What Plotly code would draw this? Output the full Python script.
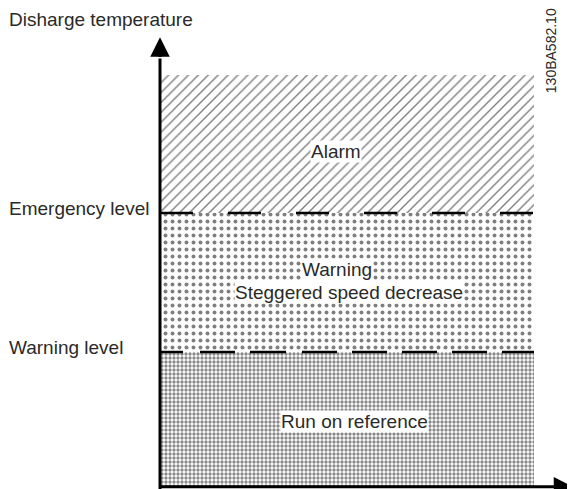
import plotly.graph_objects as go

# Zone data (arbitrary temperature units, 0 = axis origin, 100 = top of alarm zone)
zone_names = ["Run on reference", "Warning", "Alarm"]
zone_bounds = [0, 32.6, 66.4, 100]
x_extent = [0, 100]
level_names = ["Warning level", "Emergency level"]
level_values = [32.6, 66.4]
axis_title = "Disharge temperature"
doc_id = "130BA582.10"

FONT = "Liberation Sans, Arial, sans-serif"
TXT = "#2a2a2a"

fig = go.Figure()

patterns = [
    dict(shape=".", size=4, solidity=0.55, fgcolor="#111", bgcolor="white"),
    dict(shape=".", size=7, solidity=0.25, fgcolor="#000", bgcolor="white"),
    dict(shape="/", size=7, solidity=0.2, fgcolor="#000", bgcolor="white"),
]
for i, name in enumerate(zone_names):
    y0, y1 = zone_bounds[i], zone_bounds[i + 1]
    fig.add_trace(go.Scatter(
        x=[x_extent[0], x_extent[1], x_extent[1], x_extent[0], x_extent[0]],
        y=[y0, y0, y1, y1, y0],
        mode="none", fill="toself", fillcolor="white",
        fillpattern=patterns[i], hoverinfo="skip", showlegend=False))

# dashed level lines
dashes = ["23px,17px,35px,15px,36px,16px,35px,15px,35px,15px,35px,15px,35px,15px,35px,15px", "33px,35px"]
for v, d in zip(level_values, dashes):
    fig.add_trace(go.Scatter(x=x_extent, y=[v, v], mode="lines",
                             line=dict(color="black", width=2.5, dash=d),
                             hoverinfo="skip", showlegend=False))

# axes lines
fig.add_trace(go.Scatter(x=[0, 0], y=[-1, 104], mode="lines",
                         line=dict(color="black", width=3), hoverinfo="skip", showlegend=False))
fig.add_trace(go.Scatter(x=[0, 106], y=[-0.2, -0.2], mode="lines",
                         line=dict(color="black", width=3), hoverinfo="skip", showlegend=False))

annotations = []
# arrowheads
annotations.append(dict(x=0, y=109.2, ax=0, ay=104, xref="x", yref="y", axref="x", ayref="y",
                        showarrow=True, arrowhead=2, arrowsize=1.3, arrowwidth=3, arrowcolor="black", text=""))
annotations.append(dict(x=110.5, y=-0.2, ax=106, ay=-0.2, xref="x", yref="y", axref="x", ayref="y",
                        showarrow=True, arrowhead=2, arrowsize=1.3, arrowwidth=3, arrowcolor="black", text=""))

FS = 19
# zone labels
annotations.append(dict(x=47, y=81.3, text="Alarm", showarrow=False, bgcolor="white",
                        font=dict(family=FONT, size=FS, color=TXT), borderpad=0))
annotations.append(dict(x=47.3, y=52.6, text="Warning", showarrow=False, bgcolor="white",
                        font=dict(family=FONT, size=FS, color=TXT), borderpad=0))
annotations.append(dict(x=50.5, y=47.0, text="Steggered speed decrease", showarrow=False, bgcolor="white",
                        font=dict(family=FONT, size=FS, color=TXT), borderpad=0))
annotations.append(dict(x=52.1, y=15.6, text="Run on reference", showarrow=False, bgcolor="white",
                        font=dict(family=FONT, size=FS, color=TXT), borderpad=0))

# left labels (paper x=0 is the left edge of the page area)
annotations.append(dict(x=0, xref="paper", y=113.4, text=axis_title, showarrow=False, xanchor="left",
                        font=dict(family=FONT, size=FS, color=TXT), borderpad=0))
for name, v in zip(level_names, level_values):
    annotations.append(dict(x=0, xref="paper", y=v + 1.1, text=name, showarrow=False, xanchor="left",
                            font=dict(family=FONT, size=FS, color=TXT), borderpad=0))
annotations.append(dict(x=104.5, y=106, text=doc_id, showarrow=False, textangle=-90,
                        font=dict(family=FONT, size=14, color=TXT)))

# the page body adds an 8 px offset, so the ranges start 8 px into the reference frame
fig.update_layout(
    width=575, height=489, margin=dict(l=0, r=0, t=0, b=0),
    paper_bgcolor="white", plot_bgcolor="white",
    xaxis=dict(range=[-40.64, 113.1], visible=False, fixedrange=True),
    yaxis=dict(range=[-2.68, 116.3], visible=False, fixedrange=True),
    annotations=annotations, showlegend=False,
)
fig.write_html("out.html")
